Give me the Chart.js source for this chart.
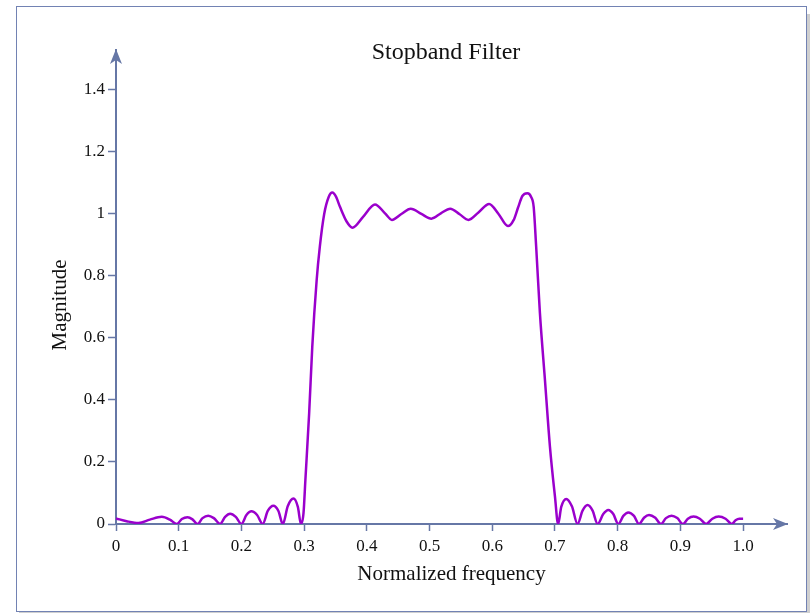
<!DOCTYPE html>
<html lang="en">
<head>
  <meta charset="utf-8">
  <title>Stopband Filter</title>
  <style>
    html, body { margin: 0; padding: 0; background: #fff; overflow: hidden; }
    #frame {
      position: absolute; left: 16px; top: 6px; width: 791px; height: 606px;
      box-sizing: border-box; border: 1.5px solid #7282b3;
      box-shadow: 3px 8px 0 #cfcfcf; background: #fff;
    }
    #chart { position: absolute; left: 0; top: 0; }
  </style>
</head>
<body>
  <div id="frame"></div>
  <canvas id="chart" width="811" height="613"></canvas>
  <script src="https://cdn.jsdelivr.net/npm/chart.js"></script>
  <script>
    // values
    var freq = [
      0.000, 0.017, 0.036, 0.054, 0.073, 0.086, 0.097, 0.105, 0.114, 0.122,
      0.130, 0.138, 0.147, 0.156, 0.166, 0.174, 0.182, 0.191, 0.200, 0.208,
      0.216, 0.225, 0.234, 0.242, 0.251, 0.259, 0.266, 0.274, 0.283, 0.290,
      0.295, 0.299, 0.302, 0.308, 0.313, 0.320, 0.325, 0.332, 0.339, 0.345,
      0.351, 0.357, 0.368, 0.377, 0.394, 0.413, 0.429, 0.440, 0.455, 0.470,
      0.487, 0.503, 0.518, 0.533, 0.548, 0.562, 0.578, 0.595, 0.610, 0.625,
      0.634, 0.641, 0.648, 0.656, 0.662, 0.666, 0.670, 0.676, 0.684, 0.692,
      0.700, 0.705, 0.710, 0.718, 0.727, 0.736, 0.744, 0.752, 0.760, 0.768,
      0.777, 0.785, 0.793, 0.801, 0.809, 0.817, 0.826, 0.834, 0.842, 0.850,
      0.860, 0.869, 0.877, 0.886, 0.895, 0.904, 0.912, 0.921, 0.931, 0.941,
      0.951, 0.961, 0.972, 0.982, 0.988, 0.994, 1.000
    ];
    var magnitude = [
      0.018, 0.009, 0.003, 0.014, 0.023, 0.014, 0.000, 0.016, 0.022, 0.015,
      0.000, 0.019, 0.027, 0.019, 0.000, 0.023, 0.033, 0.023, 0.000, 0.029,
      0.041, 0.029, 0.000, 0.042, 0.059, 0.042, 0.000, 0.058, 0.082, 0.055,
      0.000, 0.035, 0.142, 0.357, 0.572, 0.787, 0.894, 1.000, 1.054, 1.069,
      1.055, 1.024, 0.975, 0.956, 0.991, 1.031, 1.002, 0.981, 1.000, 1.017,
      1.000, 0.985, 1.002, 1.017, 0.999, 0.981, 1.005, 1.032, 1.000, 0.961,
      0.980, 1.020, 1.058, 1.067, 1.055, 1.024, 0.895, 0.680, 0.465, 0.249,
      0.088, 0.000, 0.055, 0.081, 0.057, 0.000, 0.043, 0.061, 0.043, 0.000,
      0.032, 0.045, 0.032, 0.000, 0.026, 0.037, 0.026, 0.000, 0.020, 0.029,
      0.020, 0.000, 0.019, 0.027, 0.019, 0.000, 0.017, 0.024, 0.017, 0.000,
      0.017, 0.024, 0.017, 0.000, 0.012, 0.017, 0.017
    ];
    var xTicks = [0, 0.1, 0.2, 0.3, 0.4, 0.5, 0.6, 0.7, 0.8, 0.9, 1.0];
    var yTicks = [0, 0.2, 0.4, 0.6, 0.8, 1, 1.2, 1.4];

    var axisColor = '#6677a6';
    var serif = '"Liberation Serif", "Times New Roman", serif';

    var points = freq.map(function (f, i) {
      return { x: f, y: magnitude[i] };
    });

    // arrowheads on the axes, title and y-axis label
    var decorations = {
      id: 'decorations',
      afterDraw: function (chart) {
        var ctx = chart.ctx;
        var a = chart.chartArea;
        ctx.save();
        ctx.fillStyle = axisColor;
        ctx.beginPath();
        ctx.moveTo(a.left, a.top - 1);
        ctx.lineTo(a.left - 6, a.top + 14);
        ctx.lineTo(a.left, a.top + 10);
        ctx.lineTo(a.left + 6, a.top + 14);
        ctx.closePath();
        ctx.fill();
        ctx.beginPath();
        ctx.moveTo(a.right + 1, a.bottom);
        ctx.lineTo(a.right - 14, a.bottom - 6);
        ctx.lineTo(a.right - 10, a.bottom);
        ctx.lineTo(a.right - 14, a.bottom + 6);
        ctx.closePath();
        ctx.fill();
        ctx.fillStyle = '#111';
        ctx.textAlign = 'center';
        ctx.textBaseline = 'middle';
        ctx.font = '24px ' + serif;
        ctx.fillText('Stopband Filter', 446, 53);
        ctx.font = '21px ' + serif;
        ctx.translate(60, 305);
        ctx.rotate(-Math.PI / 2);
        ctx.fillText('Magnitude', 0, 0);
        ctx.restore();
      }
    };

    new Chart(document.getElementById('chart'), {
      type: 'line',
      data: {
        datasets: [{
          label: 'Magnitude',
          data: points,
          borderColor: '#9a00cc',
          borderWidth: 2.5,
          pointRadius: 0,
          fill: false,
          cubicInterpolationMode: 'monotone'
        }]
      },
      options: {
        responsive: false,
        animation: false,
        layout: { padding: { left: 0, right: 24, top: 50, bottom: 0 } },
        plugins: {
          legend: { display: false },
          tooltip: { enabled: false }
        },
        scales: {
          x: {
            type: 'linear',
            min: 0,
            max: 1.07,
            afterFit: function (scale) { scale.height = 89; },
            afterBuildTicks: function (scale) {
              scale.ticks = xTicks.map(function (v) { return { value: v }; });
            },
            border: { color: axisColor, width: 2 },
            grid: {
              drawOnChartArea: false,
              drawTicks: true,
              tickLength: 7,
              tickColor: axisColor,
              tickWidth: 1.5
            },
            ticks: {
              padding: 5,
              color: '#111',
              maxRotation: 0,
              font: { family: serif, size: 17 },
              callback: function (v) { return v === 0 ? '0' : v.toFixed(1); }
            },
            title: {
              display: true,
              text: 'Normalized frequency',
              color: '#111',
              font: { family: serif, size: 21 },
              padding: { top: 0, bottom: 26 }
            }
          },
          y: {
            min: 0,
            max: 1.529,
            afterFit: function (scale) { scale.width = 116; },
            afterBuildTicks: function (scale) {
              scale.ticks = yTicks.map(function (v) { return { value: v }; });
            },
            border: { color: axisColor, width: 2 },
            grid: {
              drawOnChartArea: false,
              drawTicks: true,
              tickLength: 8,
              tickColor: axisColor,
              tickWidth: 1.5
            },
            ticks: {
              padding: 3,
              color: '#111',
              font: { family: serif, size: 17 },
              callback: function (v) { return String(Number(v.toFixed(1))); }
            },
            title: { display: false }
          }
        }
      },
      plugins: [decorations]
    });
  </script>
</body>
</html>
